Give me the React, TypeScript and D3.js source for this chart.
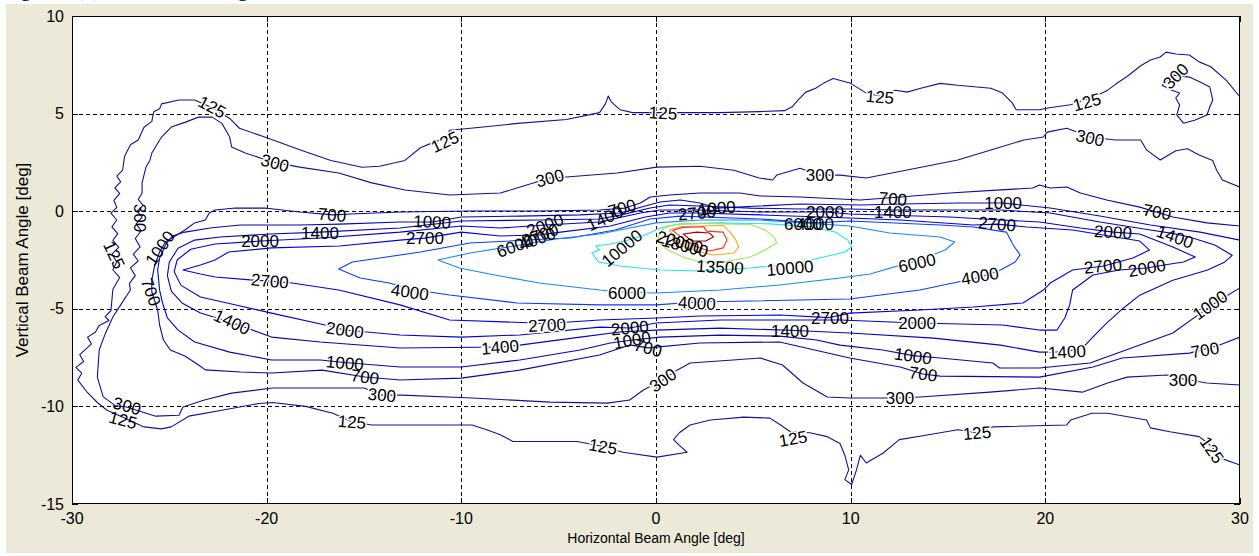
import React from "react";
import * as d3 from "d3";

type Pt = [number, number];

const X_DOMAIN: [number, number] = [-30, 30];
const Y_DOMAIN: [number, number] = [-15, 10];
const X_TICKS = [-30, -20, -10, 0, 10, 20, 30];
const Y_TICKS = [-15, -10, -5, 0, 5, 10];
const X_LABEL = "Horizontal Beam Angle [deg]";
const Y_LABEL = "Vertical Beam Angle [deg]";
const CAPTION = "Figure 4(c) Isocandela Diagram - Beam Pattern";

const LEVEL_COLORS: Record<number, string> = {
  125: "#12129a",
  300: "#10109e",
  700: "#0808aa",
  1000: "#0606b4",
  1400: "#0404c2",
  2000: "#0202d4",
  2700: "#0000ea",
  4000: "#0a3cff",
  6000: "#1a86ff",
  10000: "#22e6e6",
  13500: "#9ae85a",
  18000: "#ffa41c",
  22000: "#ff3010",
  25000: "#a80000",
};

const c125: Pt[] = [[30,5.85],[29.3,6.7],[28.5,7.4],[27.9,7.65],[27.4,8.0],[26.7,8.05],[26.2,8.15],[25.9,7.9],[25.4,7.75],[24.9,7.45],[24.2,6.9],[23.6,6.5],[23.2,6.2],[22.6,5.9],[22.0,5.7],[21.3,5.45],[20.2,5.3],[19.7,5.2],[18.5,5.2],[18.3,5.55],[17.8,6.05],[17.2,6.3],[15.5,6.45],[14.6,6.55],[13.6,6.3],[12.9,6.1],[12.3,6.2],[11.5,5.9],[10.8,6.05],[10.0,6.55],[9.1,6.8],[8.6,6.55],[8.2,6.3],[7.7,6.1],[7.3,5.7],[7.0,5.35],[6.6,5.15],[5.3,5.1],[3.3,5.05],[1.2,5.05],[-1.2,5.05],[-1.85,5.2],[-2.3,5.6],[-2.45,5.9],[-2.6,5.5],[-2.9,5.05],[-4.6,4.7],[-7.1,4.5],[-9.0,4.3],[-10.6,4.15],[-10.8,3.75],[-11.5,3.5],[-12.1,3.25],[-12.9,2.6],[-14.2,2.3],[-15.1,2.25],[-16.7,2.6],[-18.3,3.15],[-20.1,3.8],[-21.4,4.25],[-21.9,4.75],[-22.8,5.3],[-23.7,5.7],[-24.5,5.7],[-25.4,5.5],[-25.5,5.25],[-25.8,5.1],[-25.9,4.6],[-26.3,4.3],[-26.6,3.65],[-27.0,3.4],[-27.3,2.8],[-27.4,2.1],[-27.7,1.8],[-27.5,1.5],[-27.8,1.2],[-27.55,0.9],[-27.85,0.55],[-27.7,0.2],[-28.0,-0.1],[-27.7,-0.45],[-27.95,-0.8],[-27.65,-1.15],[-27.9,-1.5],[-27.6,-1.85],[-27.95,-2.2],[-27.7,-2.6],[-27.9,-3.0],[-27.55,-3.4],[-27.9,-4.0],[-28.0,-5.1],[-28.3,-5.4],[-28.1,-5.6],[-28.6,-5.85],[-28.8,-6.2],[-29.2,-6.45],[-29.0,-6.8],[-29.6,-7.35],[-29.4,-7.7],[-29.8,-8.0],[-29.5,-8.3],[-29.7,-8.65],[-29.2,-9.3],[-28.7,-9.8],[-28.2,-10.2],[-27.5,-10.5],[-26.3,-11.05],[-25.4,-11.15],[-24.9,-11.05],[-24.0,-10.5],[-22.3,-10.2],[-20.4,-9.85],[-19.7,-9.8],[-18.0,-10.0],[-16.6,-10.35],[-15.6,-10.8],[-14.6,-10.95],[-11.1,-10.95],[-9.45,-10.95],[-8.7,-11.2],[-8.0,-11.45],[-7.35,-11.8],[-4.05,-11.8],[-2.7,-12.05],[-1.7,-12.35],[0.05,-12.6],[1.6,-12.35],[1.2,-12.0],[0.9,-11.7],[1.2,-11.35],[1.75,-10.95],[2.8,-10.7],[4.5,-10.55],[5.85,-10.6],[6.4,-10.95],[6.9,-11.3],[7.9,-11.35],[8.8,-11.55],[9.45,-11.9],[9.7,-12.5],[9.9,-13.25],[9.7,-13.75],[10.05,-14.0],[10.3,-13.25],[10.5,-12.5],[10.8,-12.9],[11.65,-12.4],[12.5,-11.7],[13.7,-11.5],[15.5,-11.2],[16.5,-11.35],[17.3,-11.05],[21.1,-10.95],[21.3,-10.7],[22.4,-10.35],[23.2,-10.35],[25.2,-10.7],[25.4,-11.1],[26.4,-11.3],[27.9,-11.55],[28.5,-12.0],[29.0,-12.65],[30,-13.0]];

const c300: Pt[] = [[30,1.23],[29.1,1.6],[28.8,2.1],[28.6,2.6],[27.9,2.88],[27.3,3.2],[26.7,3.1],[25.9,2.62],[25.2,3.14],[24.9,3.65],[23.6,3.65],[22.3,3.8],[21.1,4.25],[20.1,4.05],[19.9,3.8],[18.9,3.65],[17.2,3.14],[15.5,2.62],[12.9,2.11],[10.8,1.7],[9.45,1.85],[8.4,1.85],[7.4,2.2],[6.2,1.85],[6.0,1.6],[5.3,1.7],[4.0,2.1],[2.25,2.3],[0.05,2.26],[-2.0,1.96],[-4.6,1.75],[-5.45,1.7],[-6.6,1.35],[-8.0,0.93],[-10.6,0.83],[-12.9,1.09],[-14.6,1.45],[-16.3,1.96],[-18.3,2.26],[-19.6,2.5],[-21.1,2.98],[-21.8,3.29],[-21.9,3.8],[-22.3,4.5],[-22.8,4.82],[-23.5,4.82],[-24.2,4.55],[-24.9,4.31],[-25.4,3.8],[-25.9,2.98],[-26.0,2.6],[-26.2,2.26],[-26.4,1.45],[-26.4,0.93],[-26.6,0.6],[-26.35,0.3],[-26.65,0.0],[-26.4,-0.3],[-26.7,-0.65],[-26.45,-1.0],[-26.75,-1.4],[-26.5,-1.83],[-26.85,-2.2],[-26.6,-2.55],[-27.0,-2.9],[-26.75,-3.3],[-27.05,-3.7],[-27.0,-4.04],[-27.5,-4.8],[-27.9,-5.42],[-28.3,-6.3],[-28.6,-7.1],[-28.7,-8.5],[-28.4,-9.5],[-27.8,-9.95],[-27.2,-10.03],[-25.7,-10.5],[-24.5,-10.45],[-24.3,-10.03],[-23.2,-9.67],[-21.8,-9.32],[-19.7,-9.06],[-15.0,-9.06],[-14.1,-9.42],[-13.05,-9.42],[-9.45,-9.57],[-5.45,-9.78],[-2.5,-9.83],[-1.35,-9.67],[-0.65,-9.16],[0.35,-8.65],[1.1,-8.13],[1.75,-7.78],[3.95,-7.62],[5.35,-7.52],[6.5,-7.88],[7.55,-8.8],[8.8,-9.52],[9.95,-9.57],[12.5,-9.57],[13.55,-9.52],[17.15,-9.27],[19.7,-9.06],[21.9,-9.27],[23.2,-8.8],[24.2,-8.5],[26.25,-8.39],[27.1,-8.6],[28.3,-8.8],[30,-8.9]];

const c300b: Pt[] = [[26.0,6.45],[26.55,6.97],[27.4,6.87],[27.95,6.62],[28.45,6.36],[28.6,5.7],[28.45,5.34],[28.3,4.93],[27.7,4.67],[27.1,4.51],[26.75,4.93],[26.9,5.44],[26.7,5.8],[26.9,6.05],[26.5,6.2]];

const c700: Pt[] = [[30,-0.76],[28.3,-0.6],[26.55,-0.3],[25.7,-0.04],[24.85,0.21],[23.15,0.57],[21.8,0.93],[21.1,1.24],[20.25,1.19],[19.7,1.34],[19.35,1.19],[17.7,1.09],[15.1,0.93],[12.55,0.73],[10.5,0.57],[7.4,0.73],[5.35,0.78],[4.3,0.93],[2.25,0.93],[0.7,0.83],[-0.3,0.73],[-0.8,0.42],[-1.6,0.16],[-2.9,0.06],[-6.0,0.01],[-9.55,0.01],[-13.15,-0.04],[-15.7,-0.14],[-16.6,-0.19],[-18.3,-0.04],[-20.1,0.16],[-21.6,0.16],[-22.65,0.06],[-22.95,-0.09],[-23.15,-0.45],[-23.7,-0.6],[-24.2,-0.96],[-24.7,-1.27],[-25.2,-1.58],[-25.5,-2.09],[-25.75,-2.76],[-25.9,-3.52],[-25.9,-4.14],[-25.6,-5.06],[-25.5,-5.83],[-25.3,-6.6],[-24.95,-7.11],[-24.2,-7.42],[-23.5,-7.88],[-23.15,-8.13],[-21.35,-8.24],[-19.75,-8.29],[-17.15,-8.14],[-14.95,-8.49],[-13.15,-8.65],[-10.0,-8.55],[-7.0,-8.14],[-2.9,-7.37],[-1.35,-6.85],[-0.4,-7.0],[2.25,-6.75],[6.35,-6.7],[9.95,-7.52],[12.55,-7.98],[13.7,-8.34],[14.6,-8.45],[19.7,-8.5],[22.45,-7.98],[23.95,-7.52],[27.4,-7.27],[28.95,-6.86],[30,-6.45]];

const c1000: Pt[] = [[30,-3.93],[28.95,-4.55],[28.5,-4.85],[26.55,-6.24],[24.85,-6.86],[22.3,-7.78],[19.7,-8.03],[17.65,-8.03],[17.3,-7.78],[14.6,-7.52],[13.2,-7.4],[11.65,-7.11],[9.45,-6.86],[8.25,-6.6],[6.35,-6.4],[3.3,-6.35],[0.2,-6.45],[-1.2,-6.6],[-2.35,-6.75],[-3.9,-7.11],[-7.0,-7.62],[-10.0,-7.98],[-13.15,-7.98],[-16.0,-7.75],[-17.25,-7.62],[-19.75,-7.62],[-21.9,-7.22],[-23.7,-6.7],[-24.55,-6.09],[-25.1,-5.47],[-25.35,-4.7],[-25.5,-4.04],[-25.6,-3.0],[-25.5,-2.4],[-25.2,-1.73],[-24.85,-1.27],[-24.2,-1.07],[-22.9,-0.86],[-21.35,-0.71],[-18.3,-0.71],[-16.25,-0.66],[-13.15,-0.55],[-11.5,-0.55],[-10.0,-0.3],[-7.0,-0.25],[-3.9,-0.19],[-1.85,-0.09],[-0.55,0.27],[0.2,0.47],[1.25,0.57],[2.25,0.42],[3.1,0.16],[7.4,0.37],[10.5,0.32],[12.55,0.37],[15.6,0.42],[17.8,0.42],[20.25,0.16],[22.8,-0.25],[25.4,-0.71],[27.95,-1.07],[30,-1.48]];

const c1400: Pt[] = [[29.6,-2.26],[28.7,-1.73],[27.4,-1.32],[26.6,-1.15],[25.4,-0.96],[22.8,-0.55],[20.25,-0.09],[17.7,0.06],[15.1,0.06],[12.2,0.06],[9.95,0.11],[7.4,0.11],[4.85,0.16],[2.25,0.27],[0.7,0.32],[-0.3,0.16],[-1.85,-0.2],[-2.9,-0.4],[-6.0,-0.45],[-10.0,-0.5],[-13.15,-0.86],[-17.25,-1.07],[-19.8,-1.17],[-22.4,-1.32],[-23.7,-1.48],[-24.55,-1.9],[-25.0,-2.6],[-25.1,-3.3],[-24.9,-4.1],[-24.35,-4.7],[-23.4,-5.22],[-21.8,-5.7],[-19.75,-6.45],[-17.25,-6.7],[-13.15,-7.01],[-8.0,-6.96],[-7.0,-6.86],[-3.9,-6.45],[-1.85,-6.19],[0,-6.09],[3.3,-5.99],[6.9,-6.1],[9.95,-6.24],[14.25,-6.5],[17.7,-6.86],[19.7,-7.22],[21.1,-7.2],[21.95,-6.96],[22.55,-6.34],[23.15,-5.73],[24.0,-4.97],[24.85,-4.3],[26.55,-3.54],[28.3,-3.03],[29.2,-2.61]];

const c2000: Pt[] = [[27.7,-2.35],[26.55,-1.83],[24.85,-1.17],[23.5,-1.07],[21.8,-0.86],[19.7,-0.55],[17.7,-0.45],[15.1,-0.3],[9.95,-0.14],[8.7,-0.04],[5.35,-0.04],[2.25,0.06],[0.2,0.06],[-0.8,-0.09],[-2.9,-0.55],[-5.7,-0.71],[-8.0,-0.86],[-10.0,-0.76],[-13.15,-1.07],[-17.25,-1.37],[-20.3,-1.53],[-22.65,-1.68],[-23.9,-1.95],[-24.6,-2.5],[-24.75,-3.1],[-24.4,-3.8],[-23.4,-4.4],[-21.35,-4.86],[-19.75,-5.22],[-17.0,-5.83],[-16.0,-6.09],[-13.15,-6.34],[-10.0,-6.45],[-7.0,-6.34],[-2.9,-5.94],[-1.35,-5.98],[0,-5.73],[3.3,-5.57],[9.45,-5.57],[13.4,-5.73],[17.8,-5.83],[19.7,-6.09],[20.6,-6.09],[21.0,-5.47],[21.25,-4.8],[21.4,-4.04],[22.45,-3.27],[23.8,-3.01],[25.2,-2.91],[26.1,-2.76],[27.1,-2.6]];

const c2700: Pt[] = [[25.35,-1.99],[24.85,-1.53],[21.4,-0.96],[19.05,-0.81],[17.5,-0.66],[16.3,-0.71],[12.55,-0.45],[9.95,-0.35],[5.35,-0.19],[2.1,-0.09],[0.7,-0.09],[-0.55,-0.3],[-2.35,-0.76],[-4.9,-1.07],[-6.0,-1.22],[-8.0,-1.27],[-10.0,-1.07],[-11.9,-1.38],[-13.15,-1.48],[-16.25,-1.78],[-19.75,-1.88],[-21.95,-2.09],[-22.65,-2.5],[-23.4,-2.76],[-24.3,-3.01],[-23.4,-3.22],[-22.65,-3.37],[-20.85,-3.52],[-19.8,-3.58],[-18.7,-3.68],[-16.3,-4.04],[-13.15,-4.8],[-10.6,-5.57],[-5.6,-5.75],[-2.9,-5.57],[0.05,-5.47],[2.25,-5.37],[6.35,-5.32],[8.9,-5.45],[9.95,-5.22],[13.55,-5.06],[16.3,-4.91],[18.85,-4.7],[19.9,-4.04],[20.25,-3.68],[21.4,-3.01],[23.0,-2.81],[24.5,-2.4]];

const c4000: Pt[] = [[-16.3,-2.96],[-15.2,-3.42],[-13.7,-3.68],[-12.6,-4.0],[-10.6,-4.29],[-7.15,-4.7],[-2.9,-4.8],[0,-4.8],[2.1,-4.65],[4.85,-4.6],[9.95,-4.5],[13.55,-4.04],[16.6,-3.4],[17.7,-3.01],[18.45,-2.6],[18.7,-2.24],[18.35,-1.73],[18.0,-1.07],[16.3,-0.81],[14.6,-0.71],[9.95,-0.5],[8.2,-0.6],[5.35,-0.4],[1.25,-0.25],[-0.3,-0.4],[-2.1,-0.96],[-4.4,-1.37],[-6.1,-1.45],[-9.55,-1.63],[-12.1,-2.09],[-14.2,-2.4],[-15.6,-2.6]];

const c6000: Pt[] = [[-11.2,-2.5],[-9.55,-2.14],[-7.3,-1.78],[-4.95,-1.4],[-2.9,-1.17],[-1.35,-0.86],[0,-0.6],[2.25,-0.45],[5.35,-0.45],[8.4,-0.65],[9.95,-0.76],[12.0,-1.12],[14.6,-1.32],[15.35,-1.58],[14.85,-1.99],[13.4,-2.55],[12.9,-2.66],[11.0,-3.22],[9.45,-3.42],[6.35,-3.78],[3.3,-4.04],[0,-4.19],[-1.5,-4.15],[-2.9,-4.04],[-6.0,-3.68],[-8.55,-3.22],[-10.1,-2.91]];

const c10000: Pt[] = [[-3.3,-2.14],[-2.9,-1.99],[-3.1,-1.78],[-2.35,-1.68],[-1.6,-1.53],[-0.55,-1.22],[0.2,-0.86],[1.25,-0.66],[3.3,-0.6],[5.85,-0.65],[7.9,-0.8],[9.2,-1.07],[9.85,-1.48],[10.05,-1.83],[9.7,-2.09],[8.4,-2.4],[6.9,-2.71],[4.85,-2.91],[2.25,-3.06],[0.2,-3.01],[-1.85,-2.81],[-2.95,-2.6]];

const c13500: Pt[] = [[0.05,-1.48],[0.3,-0.96],[0.6,-0.76],[1.4,-0.62],[4.85,-0.68],[5.6,-0.96],[6.1,-1.37],[6.2,-1.63],[5.6,-1.99],[4.85,-2.35],[3.45,-2.6],[2.25,-2.6],[1.4,-2.35],[0.6,-1.99]];
const c18000: Pt[] = [[0.7,-0.96],[1.25,-0.78],[3.45,-0.73],[3.8,-1.07],[4.1,-1.48],[4.25,-1.83],[4.0,-2.14],[2.95,-2.24],[2.25,-2.09],[1.5,-1.83],[0.95,-1.48]];
const c22000: Pt[] = [[0.85,-0.98],[1.4,-0.83],[2.45,-0.8],[2.6,-1.02],[3.45,-1.07],[3.65,-1.48],[3.45,-1.88],[2.75,-2.04],[2.1,-1.83],[1.5,-1.48]];
const c25000: Pt[] = [[1.4,-1.17],[2.1,-1.07],[2.75,-1.12],[2.95,-1.32],[2.55,-1.53],[1.85,-1.53]];

const CONTOURS: { level: number; pts: Pt[]; closed: boolean }[] = [
  { level: 125, pts: c125, closed: false },
  { level: 300, pts: c300, closed: false },
  { level: 300, pts: c300b, closed: true },
  { level: 700, pts: c700, closed: false },
  { level: 1000, pts: c1000, closed: false },
  { level: 1400, pts: c1400, closed: true },
  { level: 2000, pts: c2000, closed: true },
  { level: 2700, pts: c2700, closed: true },
  { level: 4000, pts: c4000, closed: true },
  { level: 6000, pts: c6000, closed: true },
  { level: 10000, pts: c10000, closed: true },
  { level: 13500, pts: c13500, closed: true },
  { level: 18000, pts: c18000, closed: true },
  { level: 22000, pts: c22000, closed: true },
  { level: 25000, pts: c25000, closed: true },
];

// [text, x, y, rotation(deg), gap in line (isolated label)]
const LABELS: [string, number, number, number, boolean][] = [
  ["125", -22.8, 5.34, 28, true], ["125", -10.84, 3.55, -25, true], ["125", 0.36, 5.03, 3, true], ["125", 11.5, 5.85, 5, true],
  ["125", 22.14, 5.59, -15, true], ["300", 26.7, 6.92, -45, true], ["300", -19.57, 2.47, 15, true], ["300", -5.45, 1.7, -15, true],
  ["300", 8.42, 1.85, 0, true], ["300", 22.3, 3.75, 12, true], ["300", -26.5, -0.35, 90, false], ["125", -27.84, -2.24, 65, false],
  ["1000", -25.48, -1.89, -55, false], ["700", -25.94, -4.14, 70, false], ["125", -27.38, -10.7, 15, false], ["300", -27.17, -9.98, 15, false],
  ["700", -16.64, -0.19, 5, false], ["1000", -11.5, -0.55, 3, false], ["1400", -17.26, -1.12, 0, false], ["2000", -20.34, -1.53, 0, false],
  ["2700", -11.87, -1.38, 0, false], ["2700", -19.83, -3.58, 5, true], ["4000", -12.64, -4.14, 8, true], ["1400", -21.78, -5.68, 25, true],
  ["2000", -15.98, -6.09, 8, true], ["1000", -15.98, -7.78, 5, false], ["700", -14.95, -8.49, 8, false], ["300", -14.08, -9.42, 5, true],
  ["125", -15.62, -10.8, 5, true], ["2000", -5.7, -0.71, -20, false], ["2700", -5.96, -1.22, -20, false], ["4000", -6.11, -1.42, -20, false],
  ["6000", -7.24, -1.78, -20, false], ["1400", -2.62, -0.35, -25, false], ["700", -1.75, 0.16, -15, false], ["10000", -1.75, -1.89, -40, false],
  ["2700", 2.1, -0.09, -5, false], ["1000", 3.13, 0.16, -5, false], ["18000", 1.49, -1.78, 15, false], ["22000", 1.23, -1.58, 15, false],
  ["13500", 3.29, -2.86, 3, false], ["10000", 6.88, -2.91, -5, true], ["2000", 8.68, -0.04, 0, false], ["6000", 7.55, -0.66, 0, false],
  ["4000", 8.17, -0.66, 0, false], ["700", 12.17, 0.63, 5, false], ["1400", 12.17, -0.04, 0, false], ["1000", 17.83, 0.42, 0, false],
  ["2700", 17.52, -0.66, 5, false], ["6000", 13.41, -2.65, -12, true], ["4000", 16.64, -3.32, -10, true], ["2000", 23.48, -1.07, 3, false],
  ["700", 25.74, -0.04, 10, false], ["1400", 26.66, -1.32, 20, false], ["2700", 22.96, -2.81, -5, false], ["2000", 25.22, -2.91, -10, false],
  ["1000", 28.46, -4.81, -35, true], ["700", 28.2, -7.11, -10, true], ["300", 27.07, -8.65, 0, true], ["125", 28.56, -12.23, 55, true],
  ["2000", 13.41, -5.73, 0, true], ["1000", 13.2, -7.42, 8, false], ["700", 13.72, -8.34, 8, false], ["300", 12.53, -9.57, 0, true],
  ["125", 16.49, -11.36, -5, true], ["1400", 21.11, -7.21, -3, true], ["2700", 8.94, -5.47, 0, false], ["1400", 6.88, -6.14, 0, false],
  ["4000", 2.1, -4.7, 3, true], ["6000", -1.49, -4.19, 0, true], ["2700", -5.6, -5.83, -3, true], ["2000", -1.34, -5.98, -5, false],
  ["1000", -1.23, -6.6, -10, false], ["700", -0.41, -7.01, 15, false], ["1400", -8.01, -6.96, -5, true], ["300", 0.36, -8.65, -35, true],
  ["125", -2.72, -12.06, 10, true], ["125", 7.04, -11.65, -10, true],
];

const W = 1259;
const H = 556;
const M = { left: 72, top: 16, right: 1240, bottom: 504 };
const SANS = "'Liberation Sans', Arial, Helvetica, sans-serif";

export default function App() {
  const x = d3.scaleLinear().domain(X_DOMAIN).range([M.left, M.right]);
  const y = d3.scaleLinear().domain(Y_DOMAIN).range([M.bottom, M.top]);
  const lineOpen = d3.line<Pt>().x((d) => x(d[0])).y((d) => y(d[1])).curve(d3.curveLinear);
  const lineClosed = d3.line<Pt>().x((d) => x(d[0])).y((d) => y(d[1])).curve(d3.curveLinearClosed);
  const gridX = X_TICKS.filter((t) => t !== X_DOMAIN[0] && t !== X_DOMAIN[1]);
  const gridY = Y_TICKS.filter((t) => t !== Y_DOMAIN[0] && t !== Y_DOMAIN[1]);
  const tickLen = 6;

  return (
    <svg
      width={W}
      height={H}
      style={{ position: "absolute", left: 0, top: 0, display: "block" }}
      xmlns="http://www.w3.org/2000/svg"
    >
      <rect x={0} y={0} width={W} height={H} fill="#ffffff" />
      <text x={2} y={-4} fontFamily="'Liberation Serif', 'Times New Roman', serif" fontSize={22} fill="#000">
        {CAPTION}
      </text>
      <rect x={6} y={4} width={1247} height={549} fill="#ece9d8" />
      <rect x={M.left} y={M.top} width={M.right - M.left} height={M.bottom - M.top} fill="#ffffff" />
      <defs>
        <clipPath id="plotclip">
          <rect x={M.left} y={M.top} width={M.right - M.left} height={M.bottom - M.top} />
        </clipPath>
      </defs>
      <g stroke="#000" strokeWidth={1} strokeDasharray="4,3" shapeRendering="crispEdges">
        {gridX.map((t) => (
          <line key={"gx" + t} x1={Math.round(x(t)) + 0.5} x2={Math.round(x(t)) + 0.5} y1={M.top} y2={M.bottom} />
        ))}
        {gridY.map((t) => (
          <line key={"gy" + t} y1={Math.round(y(t)) + 0.5} y2={Math.round(y(t)) + 0.5} x1={M.left} x2={M.right} />
        ))}
      </g>
      <g clipPath="url(#plotclip)" fill="none" strokeWidth={1.1} strokeLinejoin="round">
        {CONTOURS.map((c, i) => (
          <path
            key={"c" + i}
            d={(c.closed ? lineClosed(c.pts) : lineOpen(c.pts)) || ""}
            stroke={LEVEL_COLORS[c.level]}
          />
        ))}
      </g>
      <g fontFamily={SANS} fontSize={17} fill="#000" textAnchor="middle" clipPath="url(#plotclip)">
        {LABELS.map(([t, lx, ly, r, gap], i) => (
          <text
            key={"l" + i}
            x={x(lx)}
            y={y(ly)}
            dy="0.35em"
            transform={`rotate(${r},${x(lx)},${y(ly)})`}
            stroke={gap ? "#ffffff" : "none"}
            strokeWidth={gap ? 3 : 0}
            style={{ paintOrder: "stroke" }}
          >
            {t}
          </text>
        ))}
      </g>
      <g stroke="#000" strokeWidth={1} shapeRendering="crispEdges" fill="none">
        <rect x={M.left + 0.5} y={M.top + 0.5} width={M.right - M.left - 1} height={M.bottom - M.top - 1} />
        {X_TICKS.map((t) => (
          <g key={"tx" + t}>
            <line x1={Math.round(x(t)) + 0.5} x2={Math.round(x(t)) + 0.5} y1={M.bottom} y2={M.bottom - tickLen} />
            <line x1={Math.round(x(t)) + 0.5} x2={Math.round(x(t)) + 0.5} y1={M.top} y2={M.top + tickLen} />
          </g>
        ))}
        {Y_TICKS.map((t) => (
          <g key={"ty" + t}>
            <line y1={Math.round(y(t)) + 0.5} y2={Math.round(y(t)) + 0.5} x1={M.left} x2={M.left + tickLen} />
            <line y1={Math.round(y(t)) + 0.5} y2={Math.round(y(t)) + 0.5} x1={M.right} x2={M.right - tickLen} />
          </g>
        ))}
      </g>
      <g fontFamily={SANS} fontSize={16} fill="#000">
        {X_TICKS.map((t) => (
          <text key={"xl" + t} x={x(t)} y={M.bottom + 20} textAnchor="middle">
            {t}
          </text>
        ))}
        {Y_TICKS.map((t) => (
          <text key={"yl" + t} x={M.left - 8} y={y(t)} dy="0.35em" textAnchor="end">
            {t}
          </text>
        ))}
      </g>
      <text x={(M.left + M.right) / 2} y={M.bottom + 39} textAnchor="middle" fontFamily={SANS} fontSize={14} fill="#000">
        {X_LABEL}
      </text>
      <text
        transform={`translate(${22},${(M.top + M.bottom) / 2}) rotate(-90)`}
        textAnchor="middle"
        dy="0.35em"
        fontFamily={SANS}
        fontSize={17}
        fill="#000"
      >
        {Y_LABEL}
      </text>
    </svg>
  );
}
